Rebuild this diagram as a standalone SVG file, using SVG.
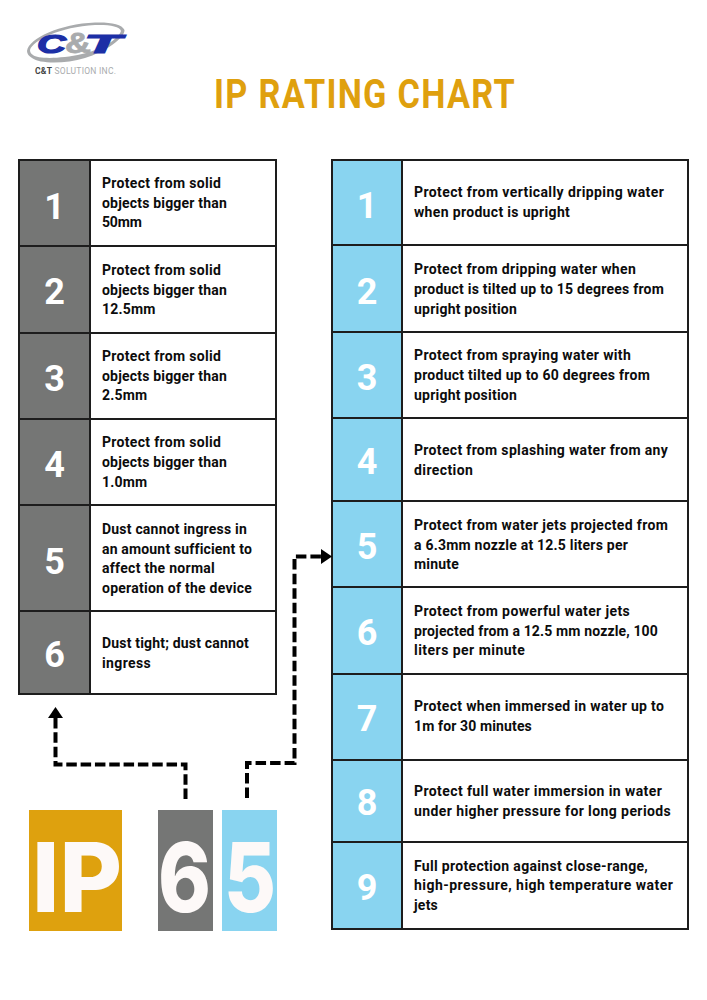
<svg xmlns="http://www.w3.org/2000/svg" width="707" height="1000" viewBox="0 0 707 1000">
<style>
.cell{fill:#fff;stroke:#1d1d1d;stroke-width:2}
.g{fill:#757675}
.b{fill:#89d4f0}
.div{stroke:#1d1d1d;stroke-width:2;fill:none}
.n{font:700 36px Roboto,"Liberation Sans",sans-serif;fill:#fff;text-anchor:middle}
.t{font:700 14px Roboto,"Liberation Sans",sans-serif;fill:#0c0c0c;letter-spacing:.2px;transform:translateY(.3px)}
.big{font:800 96px Inter,"Liberation Sans",sans-serif;fill:#fdf9f8}
.c{fill:none;stroke:#000;stroke-width:4}
.lg{font-family:"Liberation Sans",sans-serif;font-weight:700;font-size:25px;font-style:italic;fill:#1c2fa6;stroke:#1c2fa6;stroke-width:1.2px}
.amp{font-size:30px;font-style:normal;fill:#a9abad;stroke:#a9abad;stroke-width:.8px}
</style>
<defs>
<marker id="ah" markerUnits="userSpaceOnUse" markerWidth="12" markerHeight="16" refX="0" refY="7.500" orient="auto"><path d="M0 0 11 7.500 0 15z" fill="#000"/></marker>
</defs>
<g id="logo">
<path fill-rule="evenodd" fill="#a9abad" d="M27 51C29 38 60 24 95 22.500 110 22 122 24 124.500 30 125 38 105 52 85 58 65 64 40 64 32 58 29 56 27 54 27 51ZM30 50C33 40 60 27 95 25 108 24.500 120 26 121 31 118 40 100 50 82 54 60 59 38 59 33 55 31 54 30 52 30 50Z"/>
<text class="lg" y="53"><tspan x="37" textLength="29" lengthAdjust="spacingAndGlyphs">C</tspan><tspan class="amp" x="65" textLength="26" lengthAdjust="spacingAndGlyphs">&amp;</tspan><tspan x="84" textLength="37" lengthAdjust="spacingAndGlyphs">T</tspan></text>
<text x="35" y="73.500" font-family="Roboto,sans-serif" font-size="8.500" fill="#a9abad" textLength="81"><tspan font-weight="700" fill="#444">C&amp;T</tspan> SOLUTION INC.</text>
</g>
<text id="title" x="214" y="108" font-family="Roboto,'Liberation Sans',sans-serif" font-weight="700" font-size="40.500" letter-spacing="1.5" fill="#dfa00e" textLength="302" lengthAdjust="spacingAndGlyphs">IP RATING CHART</text>

<g id="left-table">
<rect class="cell" x="19" y="160" width="257" height="534"/>
<rect class="g" x="20" y="161" width="70" height="532"/>
<path class="div" d="M90 160V694M19 246H276M19 333H276M19 419H276M19 505H276M19 611H276"/>
</g>
<g id="solid-1"><text class="n" x="54.500" y="218.500">1</text><text class="t"><tspan x="102" y="188" textLength="119">Protect from solid</tspan><tspan x="102" y="208" textLength="125">objects bigger than</tspan><tspan x="102" y="227" textLength="40">50mm</tspan></text></g>
<g id="solid-2"><text class="n" x="54.500" y="304">2</text><text class="t"><tspan x="102" y="275" textLength="119">Protect from solid</tspan><tspan x="102" y="295" textLength="125">objects bigger than</tspan><tspan x="102" y="314">12.5mm</tspan></text></g>
<g id="solid-3"><text class="n" x="54.500" y="391">3</text><text class="t"><tspan x="102" y="361" textLength="119">Protect from solid</tspan><tspan x="102" y="381" textLength="125">objects bigger than</tspan><tspan x="102" y="400">2.5mm</tspan></text></g>
<g id="solid-4"><text class="n" x="54.500" y="477">4</text><text class="t"><tspan x="102" y="447" textLength="119">Protect from solid</tspan><tspan x="102" y="467" textLength="125">objects bigger than</tspan><tspan x="102" y="487">1.0mm</tspan></text></g>
<g id="solid-5"><text class="n" x="54.500" y="574">5</text><text class="t"><tspan x="102" y="534" textLength="145">Dust cannot ingress in</tspan><tspan x="102" y="554" textLength="150">an amount sufficient to</tspan><tspan x="102" y="573" textLength="113">affect the normal</tspan><tspan x="102" y="593" textLength="150">operation of the device</tspan></text></g>
<g id="solid-6"><text class="n" x="54.500" y="667">6</text><text class="t"><tspan x="102" y="648" textLength="147">Dust tight; dust cannot</tspan><tspan x="102" y="668" textLength="49">ingress</tspan></text></g>

<g id="right-table">
<rect class="cell" x="332" y="160" width="356" height="769"/>
<rect class="b" x="333" y="161" width="69" height="767"/>
<path class="div" d="M402 160V929M332 245H688M332 332H688M332 418H688M332 501H688M332 587H688M332 674H688M332 760H688M332 842H688"/>
</g>
<g id="water-1"><text class="n" x="367" y="218">1</text><text class="t"><tspan x="414" y="197" textLength="250">Protect from vertically dripping water</tspan><tspan x="414" y="217" textLength="156">when product is upright</tspan></text></g>
<g id="water-2"><text class="n" x="367" y="304">2</text><text class="t"><tspan x="414" y="274" textLength="222">Protect from dripping water when</tspan><tspan x="414" y="294" textLength="250">product is tilted up to 15 degrees from</tspan><tspan x="414" y="314" textLength="103">upright position</tspan></text></g>
<g id="water-3"><text class="n" x="367" y="390">3</text><text class="t"><tspan x="414" y="360" textLength="217">Protect from spraying water with</tspan><tspan x="414" y="380" textLength="236">product tilted up to 60 degrees from</tspan><tspan x="414" y="400" textLength="103">upright position</tspan></text></g>
<g id="water-4"><text class="n" x="367" y="474">4</text><text class="t"><tspan x="414" y="455" textLength="254">Protect from splashing water from any</tspan><tspan x="414" y="475" textLength="59">direction</tspan></text></g>
<g id="water-5"><text class="n" x="367" y="559">5</text><text class="t"><tspan x="414" y="530" textLength="254">Protect from water jets projected from</tspan><tspan x="414" y="550" textLength="214">a 6.3mm nozzle at 12.5 liters per</tspan><tspan x="414" y="569" textLength="45">minute</tspan></text></g>
<g id="water-6"><text class="n" x="367" y="645">6</text><text class="t"><tspan x="414" y="616" textLength="216">Protect from powerful water jets</tspan><tspan x="414" y="636" textLength="244">projected from a 12.5 mm nozzle, 100</tspan><tspan x="414" y="655" textLength="111">liters per minute</tspan></text></g>
<g id="water-7"><text class="n" x="367" y="731">7</text><text class="t"><tspan x="414" y="711" textLength="250">Protect when immersed in water up to</tspan><tspan x="414" y="731" textLength="118">1m for 30 minutes</tspan></text></g>
<g id="water-8"><text class="n" x="367" y="815">8</text><text class="t"><tspan x="414" y="796" textLength="248">Protect full water immersion in water</tspan><tspan x="414" y="816" textLength="257">under higher pressure for long periods</tspan></text></g>
<g id="water-9"><text class="n" x="367" y="900">9</text><text class="t"><tspan x="414" y="871" textLength="234">Full protection against close-range,</tspan><tspan x="414" y="890" textLength="259">high-pressure, high temperature water</tspan><tspan x="414" y="910" textLength="24">jets</tspan></text></g>

<g id="connectors">
<path class="c" stroke-dasharray="10.500 3.820" marker-end="url(#ah)" d="M185.500 799V764.500H55.500V718"/>
<path class="c" stroke-dasharray="10.500 4.020" marker-end="url(#ah)" d="M247 798V763H294.500V556.500H321"/>
</g>
<g id="code-ip"><rect x="29" y="810" width="93" height="121" fill="#dea10e"/><text class="big" x="32" y="911.500" textLength="90" lengthAdjust="spacingAndGlyphs">IP</text></g>
<g id="code-6"><rect x="158" y="810" width="55" height="121" fill="#757675"/><text class="big" x="158" y="911.500" textLength="53" lengthAdjust="spacingAndGlyphs">6</text></g>
<g id="code-5"><rect x="222" y="810" width="55" height="121" fill="#89d4f0"/><text class="big" x="224" y="911.500" textLength="52" lengthAdjust="spacingAndGlyphs">5</text></g>
</svg>
